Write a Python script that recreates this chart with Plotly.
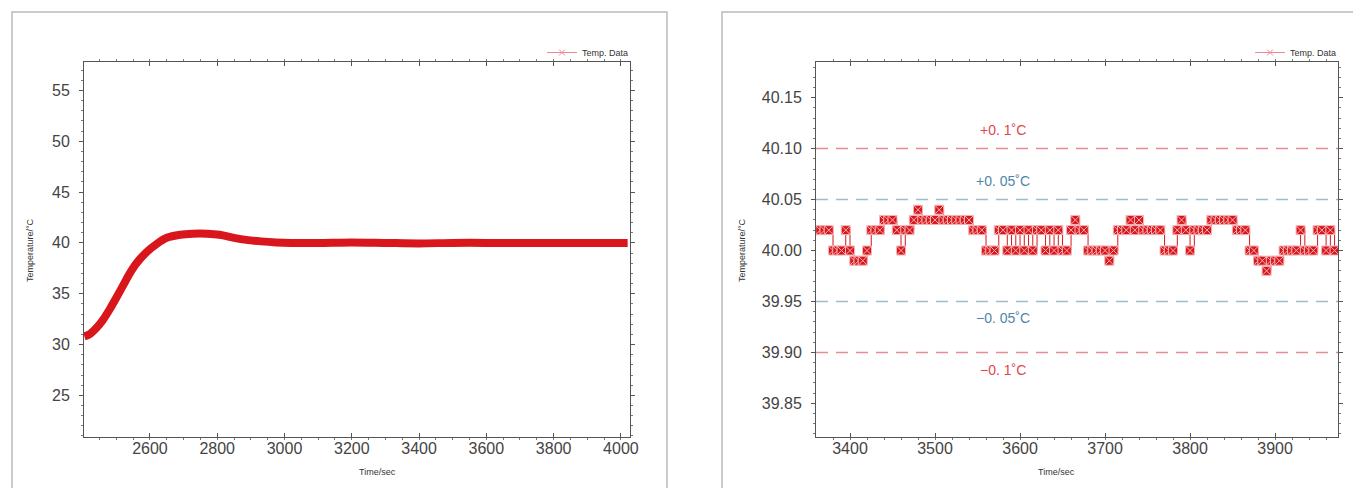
import plotly.graph_objects as go

# ---- data: left panel (heat-up curve) ----
left_time = [2405, 2420, 2440, 2460, 2481, 2500, 2520, 2540, 2560, 2590, 2620, 2650, 2690, 2727,
             2770, 2807, 2850, 2886, 2930, 2975, 3020, 3100, 3200, 3300, 3400, 3500,
             3600, 3700, 3800, 3900, 4020]
left_temp = [30.8, 31.0, 31.6, 32.4, 33.5, 34.6, 35.8, 37.0, 38.0, 39.1, 39.9, 40.5, 40.8, 40.9,
             40.9, 40.8, 40.5, 40.3, 40.15, 40.05, 40.0, 40.0, 40.05, 40.0, 39.95, 40.0,
             40.0, 40.0, 40.0, 39.98, 40.0]

# ---- data: right panel (steady state, 5 s sampling from t=3360) ----
right_start = 3360
right_step = 5
right_temp = [
    40.02, 40.02, 40.02, 40.02, 40.00, 40.00, 40.00, 40.02, 40.00, 39.99,
    39.99, 39.99, 40.00, 40.02, 40.02, 40.02, 40.03, 40.03, 40.03, 40.02,
    40.00, 40.02, 40.02, 40.03, 40.04, 40.03, 40.03, 40.03, 40.03, 40.04,
    40.03, 40.03, 40.03, 40.03, 40.03, 40.03, 40.03, 40.02, 40.02, 40.02,
    40.00, 40.00, 40.00, 40.02, 40.02, 40.00, 40.02, 40.00, 40.02, 40.00,
    40.02, 40.00, 40.02, 40.02, 40.00, 40.02, 40.00, 40.02, 40.00, 40.00,
    40.02, 40.03, 40.02, 40.02, 40.00, 40.00, 40.00, 40.00, 40.00, 39.99,
    40.00, 40.02, 40.02, 40.02, 40.03, 40.02, 40.03, 40.02, 40.02, 40.02,
    40.02, 40.02, 40.00, 40.00, 40.00, 40.02, 40.03, 40.02, 40.00, 40.02,
    40.02, 40.02, 40.02, 40.03, 40.03, 40.03, 40.03, 40.03, 40.03, 40.02,
    40.02, 40.02, 40.00, 40.00, 39.99, 39.99, 39.98, 39.99, 39.99, 39.99,
    40.00, 40.00, 40.00, 40.00, 40.02, 40.00, 40.00, 40.00, 40.02, 40.02,
    40.00, 40.02, 40.00,
]
right_time = [right_start + right_step * i for i in range(len(right_temp))]

# tolerance bands
band_values = [40.10, 40.05, 39.95, 39.90]
band_labels = ["+0. 1˚C", "+0. 05˚C", "−0. 05˚C", "−0. 1˚C"]
band_label_y = [40.118, 40.068, 39.934, 39.883]

RED = "#d8161c"
PINK = "#ec8a94"
BLUE = "#9dbccc"
TXT_RED = "#e0474c"
TXT_BLUE = "#4f86a8"

# page has an 8px body margin, so work in screenshot pixels minus 8
OFF = 8
W, H = 1361 - OFF, 488 - OFF


def px(v):
    return (v - OFF) / W


def py(v):
    return (H - (v - OFF)) / H


fig = go.Figure()

# left data
fig.add_trace(go.Scatter(x=left_time, y=left_temp, mode="lines",
                         line=dict(color=RED, width=8, shape="spline", smoothing=0.8),
                         xaxis="x", yaxis="y", showlegend=False))
# right data
fig.add_trace(go.Scatter(x=right_time, y=right_temp, mode="lines+markers",
                         line=dict(color=RED, width=1, shape="hv"),
                         marker=dict(symbol="square-x", size=9, color=RED,
                                     line=dict(color="#f6b5b8", width=1)),
                         xaxis="x2", yaxis="y2", showlegend=False))

# legend entries
for lg, ax in [("legend", ("x", "y")), ("legend2", ("x2", "y2"))]:
    fig.add_trace(go.Scatter(x=[None], y=[None], mode="lines+markers", name="Temp. Data",
                             line=dict(color=PINK, width=1),
                             marker=dict(symbol="x-thin-open", size=6, color=PINK,
                                         line=dict(color=PINK, width=1)),
                             xaxis=ax[0], yaxis=ax[1], legend=lg))

# dashed tolerance lines and labels
for v, lab, ly in zip(band_values, band_labels, band_label_y):
    col = PINK if abs(v - 40) > 0.07 else BLUE
    tcol = TXT_RED if abs(v - 40) > 0.07 else TXT_BLUE
    fig.add_shape(type="line", xref="x2 domain", yref="y2", x0=0, x1=1, y0=v, y1=v,
                  line=dict(color=col, width=1.5, dash="12px,8px"))
    fig.add_annotation(x=3580, y=ly, xref="x2", yref="y2", text=lab, showarrow=False,
                       font=dict(size=14, color=tcol, family="Liberation Sans"))

axis_common = dict(showline=True, linecolor="#555", linewidth=1, mirror="allticks",
                   ticklen=4, tickcolor="#555", showgrid=False,
                   zeroline=False, tickfont=dict(size=16, color="#444", family="Liberation Sans"),
                   automargin=False)
minor = dict(ticks="outside", ticklen=2, tickcolor="#777", showgrid=False)
xcommon = dict(ticks="inside", ticklabelstandoff=-3, **axis_common)
ycommon = dict(ticks="outside", ticklabelstandoff=6, **axis_common)

ydom = [py(437), py(62)]

fig.update_layout(
    width=W, height=H,
    margin=dict(l=0, r=0, t=0, b=0),
    paper_bgcolor="white", plot_bgcolor="white",
    xaxis=dict(domain=[px(84), px(630)], range=[2404, 4027],
               tickvals=[2600, 2800, 3000, 3200, 3400, 3600, 3800, 4000],
               minor=dict(dtick=50, **minor), anchor="y", **xcommon),
    yaxis=dict(domain=ydom, range=[20.9, 57.8], tickvals=[25, 30, 35, 40, 45, 50, 55],
               minor=dict(dtick=1, **minor), anchor="x", **ycommon),
    xaxis2=dict(domain=[px(816), px(1338)], range=[3360, 3974],
                tickvals=[3400, 3500, 3600, 3700, 3800, 3900],
                minor=dict(dtick=20, **minor), anchor="y2", **xcommon),
    yaxis2=dict(domain=ydom, range=[39.817, 40.185],
                tickvals=[39.85, 39.90, 39.95, 40.00, 40.05, 40.10, 40.15],
                tickformat=".2f", minor=dict(dtick=0.01, **minor), anchor="x2", **ycommon),
    legend=dict(x=px(634), y=py(38), xanchor="right", yanchor="top", bgcolor="rgba(0,0,0,0)",
                font=dict(size=9, color="#333", family="Liberation Sans"), itemwidth=30),
    legend2=dict(x=px(1342), y=py(38), xanchor="right", yanchor="top", bgcolor="rgba(0,0,0,0)",
                 font=dict(size=9, color="#333", family="Liberation Sans"), itemwidth=30),
)

# axis titles
for xc, yc_x in [((84 + 630) / 2, 23), ((816 + 1338) / 2, 742)]:
    fig.add_annotation(x=px(xc), y=py(472), xref="paper", yref="paper", text="Time/sec",
                       yanchor="middle", showarrow=False,
                       font=dict(size=9, color="#333", family="Liberation Sans"))
    fig.add_annotation(x=px(yc_x), y=py(250), xref="paper", yref="paper", text="Temperature/°C",
                       textangle=-90, showarrow=False,
                       font=dict(size=9, color="#333", family="Liberation Sans"))

# outer panel frames
top = py(12)
fig.add_shape(type="path", xref="paper", yref="paper",
              path=f"M {px(12)},0 L {px(12)},{top} L {px(667)},{top} L {px(667)},0",
              line=dict(color="#bbb", width=1.5))
fig.add_shape(type="path", xref="paper", yref="paper",
              path=f"M {px(722)},0 L {px(722)},{top} L 1,{top}",
              line=dict(color="#bbb", width=1.5))

fig.write_html("out.html")
